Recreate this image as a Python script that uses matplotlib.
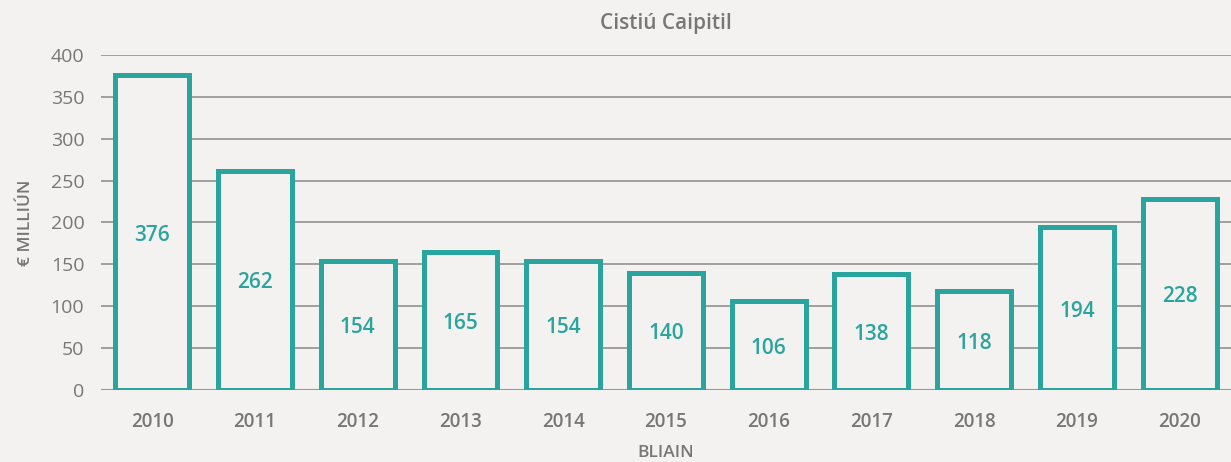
import numpy as np
import matplotlib.pyplot as plt

# data
years = ['2010', '2011', '2012', '2013', '2014', '2015', '2016', '2017', '2018', '2019', '2020']
values = [376, 262, 154, 165, 154, 140, 106, 138, 118, 194, 228]

bg = '#f3f2f0'
teal = '#2aa59e'
grey = '#777777'

plt.rcParams['font.family'] = ['Open Sans', 'DejaVu Sans']
plt.rcParams['font.stretch'] = 'normal'
bold = dict(fontweight='semibold', fontstretch='normal')

fig = plt.figure(figsize=(12.31, 4.62), dpi=100, facecolor=bg)
ax = fig.add_axes([0.082, 0.156, 0.918, 0.725], facecolor=bg)

x = np.arange(len(years))
ax.bar(x, values, width=0.72, facecolor=bg, edgecolor=teal, linewidth=3.6, zorder=3)

# labels in the middle of each bar
for xi, v in zip(x, values):
    ax.text(xi, v / 2 - 3, str(v), ha='center', va='center', color=teal,
            fontsize=15, zorder=4, **bold)

ax.set_xlim(-0.5, 10.5)
ax.set_ylim(0, 400)
ax.set_yticks(np.arange(0, 401, 50))
ax.yaxis.grid(True, color='#999999', linewidth=1.3, zorder=0)
ax.axhline(0, color='#888888', linewidth=1.5, zorder=1)
ax.set_xticks(x)
ax.set_xticklabels(years, fontsize=13.5, **bold)
ax.tick_params(axis='both', length=0, colors=grey)
ax.tick_params(axis='y', pad=12, labelsize=14)
ax.tick_params(axis='x', pad=16)
for s in ax.spines.values():
    s.set_visible(False)

ax.set_title('Cistiú Caipitil', color=grey, fontsize=15, pad=19, **bold)
ax.set_ylabel('€ MILLIÚN', color=grey, fontsize=12.5, labelpad=12, **bold)
ax.set_xlabel('BLIAIN', color=grey, fontsize=12.5, labelpad=9, **bold)

fig.savefig('out.png', dpi=100, facecolor=bg)
